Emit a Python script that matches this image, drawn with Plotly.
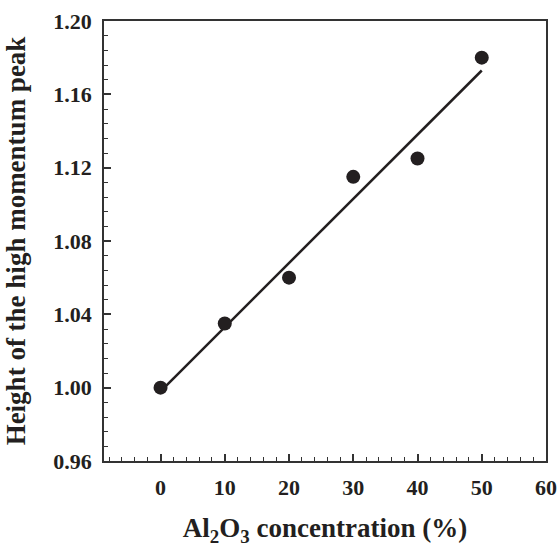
import plotly.graph_objects as go

conc = [0, 10, 20, 30, 40, 50]
height = [1.000, 1.035, 1.060, 1.115, 1.125, 1.180]
fit_x = [0, 50]
fit_y = [0.998, 1.173]

x_ticks = [0, 10, 20, 30, 40, 50, 60]
y_ticks = [0.96, 1.00, 1.04, 1.08, 1.12, 1.16, 1.20]

INK = "#231f20"
FONT = "Liberation Serif"
TICKFONT = dict(family=FONT, size=22, color=INK, weight="bold")

fig = go.Figure()
fig.add_trace(go.Scatter(x=fit_x, y=fit_y, mode="lines",
                         line=dict(color=INK, width=2.5), showlegend=False))
fig.add_trace(go.Scatter(x=conc, y=height, mode="markers",
                         marker=dict(color=INK, size=14), showlegend=False))

axis_common = dict(
    showline=True, linecolor="#333333", linewidth=1.5, mirror=True,
    showgrid=False, zeroline=False, automargin=False,
    ticks="inside", ticklen=7, tickwidth=1.5, tickcolor="#333333",
    tickfont=TICKFONT,
)

fig.update_layout(
    width=559, height=547,
    margin=dict(l=104, r=13, t=21, b=86),
    paper_bgcolor="white", plot_bgcolor="white",
    font=dict(family=FONT, color=INK),
    xaxis=dict(
        range=[-8.8, 60], tickvals=x_ticks,
        ticktext=[f"<b>{v}</b>" for v in x_ticks],
        minor=dict(dtick=2, ticks="inside", ticklen=4, tickwidth=1.2, tickcolor="#333333"),
        ticklabelstandoff=6,
        title=dict(text="<b>Al<sub>2</sub>O<sub>3</sub> concentration (%)</b>",
                   font=dict(family=FONT, size=27, color=INK), standoff=24),
        **axis_common,
    ),
    yaxis=dict(
        range=[0.96, 1.20], tickvals=y_ticks,
        ticktext=[f"<b>{v:.2f}</b>" for v in y_ticks],
        minor=dict(dtick=0.008, ticks="inside", ticklen=4, tickwidth=1.2, tickcolor="#333333"),
        ticklabelstandoff=6,
        title=dict(text="<b>Height of the high momentum peak</b>",
                   font=dict(family=FONT, size=27, color=INK), standoff=20),
        **axis_common,
    ),
)

fig.write_html("out.html")
